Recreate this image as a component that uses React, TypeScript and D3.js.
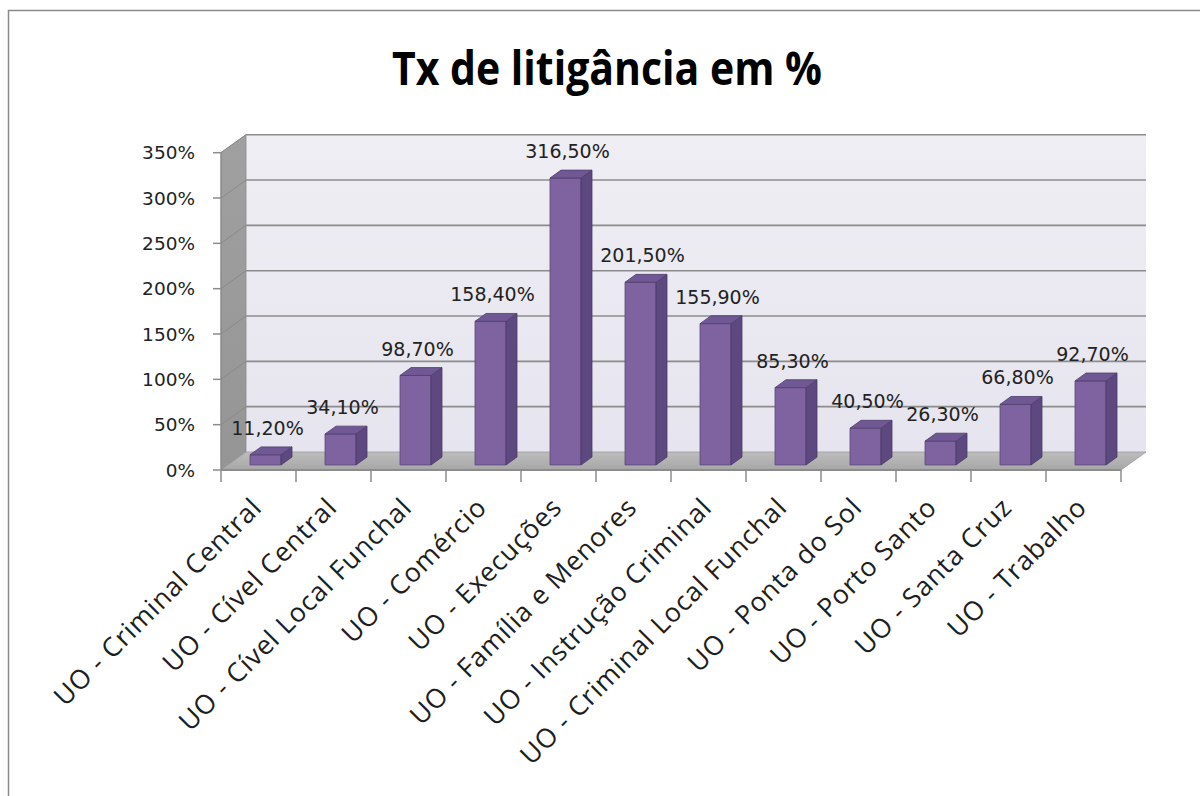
import React from "react";
import * as d3 from "d3";

const categories = [
  "UO - Criminal Central",
  "UO - Cível Central",
  "UO - Cível Local Funchal",
  "UO - Comércio",
  "UO - Execuções",
  "UO - Família e Menores",
  "UO - Instrução Criminal",
  "UO - Criminal Local Funchal",
  "UO - Ponta do Sol",
  "UO - Porto Santo",
  "UO - Santa Cruz",
  "UO - Trabalho",
];
const values = [11.2, 34.1, 98.7, 158.4, 316.5, 201.5, 155.9, 85.3, 40.5, 26.3, 66.8, 92.7];
const yTicks = [0, 50, 100, 150, 200, 250, 300, 350];
const title = "Tx de litigância em %";

const W = 1200;
const H = 796;
const LEFT = 221;
const RIGHT = 1121;
const Y0 = 470;
const Y1 = 152.7;
const DX = 25;
const DY = 18;
const Z0 = 0.28;
const Z1 = 0.72;
const BAR_W = 31;

const fmtPct = (v: number) => d3.format(".2f")(v).replace(".", ",") + "%";

export default function App() {
  const x = d3.scaleBand<string>().domain(categories).range([LEFT, RIGHT]).padding(0);
  const y = d3.scaleLinear().domain([0, 350]).range([Y0, Y1]);
  const P = (px: number, v: number, z: number): [number, number] => [px + z * DX, y(v) - z * DY];
  const pts = (arr: [number, number][]) => arr.map((p) => p.join(",")).join(" ");

  const floor = pts([P(LEFT, 0, 0), P(RIGHT, 0, 0), P(RIGHT, 0, 1), P(LEFT, 0, 1)]);
  const backWall = pts([P(LEFT, 0, 1), P(RIGHT, 0, 1), P(RIGHT, 350, 1), P(LEFT, 350, 1)]);
  const leftWall = pts([P(LEFT, 0, 0), P(LEFT, 0, 1), P(LEFT, 350, 1), P(LEFT, 350, 0)]);
  const boundaries = [...categories.map((c) => x(c) as number), RIGHT];
  const labelFont = "'DejaVu Sans', Verdana, sans-serif";

  return (
    <svg
      width={W}
      height={H}
      style={{ position: "absolute", left: 0, top: 0, background: "#fff" }}
      xmlns="http://www.w3.org/2000/svg"
    >
      <defs>
        <linearGradient id="backG" x1="0" y1="0" x2="0" y2="1">
          <stop offset="0" stopColor="#efeef4" />
          <stop offset="1" stopColor="#e6e4ee" />
        </linearGradient>
        <linearGradient id="leftG" x1="0" y1="0" x2="0" y2="1">
          <stop offset="0" stopColor="#a0a0a0" />
          <stop offset="1" stopColor="#959595" />
        </linearGradient>
        <linearGradient id="floorG" x1="0" y1="1" x2="0" y2="0">
          <stop offset="0" stopColor="#a7a7a7" />
          <stop offset="1" stopColor="#bdbdbd" />
        </linearGradient>
      </defs>
      <rect x={8.5} y={10.5} width={1200} height={800} fill="#fff" stroke="#8a8a8a" strokeWidth={1.5} />

      <text
        x={607}
        y={85}
        textAnchor="middle"
        fontFamily="'Liberation Sans Narrow', 'Open Sans', sans-serif"
        fontWeight="bold"
        fontSize={46}
        textLength={430}
        lengthAdjust="spacingAndGlyphs"
        fill="#000"
      >
        {title}
      </text>

      {/* walls */}
      <polygon points={backWall} fill="url(#backG)" />
      <polygon points={leftWall} fill="url(#leftG)" stroke="#8a8a8a" strokeWidth={0.8} />
      <polygon points={floor} fill="url(#floorG)" stroke="#9a9a9a" strokeWidth={0.8} />

      {/* gridlines */}
      {yTicks.map((t) => {
        const [bx0, by0] = P(LEFT, t, 1);
        const [bx1, by1] = P(RIGHT, t, 1);
        const [fx, fy] = P(LEFT, t, 0);
        return (
          <g key={"g" + t}>
            {t > 0 && <line x1={bx0} y1={by0} x2={bx1} y2={by1} stroke="#8c8c8c" strokeWidth={1.6} />}
            {t > 0 && <line x1={fx} y1={fy} x2={bx0} y2={by0} stroke="#8a8a8a" strokeWidth={1} />}
          </g>
        );
      })}

      {/* y axis */}
      <line x1={LEFT} y1={y(0)} x2={LEFT} y2={y(350)} stroke="#8c8c8c" strokeWidth={1.2} />
      {yTicks.map((t) => (
        <g key={"yt" + t}>
          <line x1={LEFT - 8} y1={y(t)} x2={LEFT} y2={y(t)} stroke="#8c8c8c" strokeWidth={1.5} />
          <text
            x={195}
            y={y(t)}
            dy="0.36em"
            textAnchor="end"
            fontFamily={labelFont}
            fontSize={18.5}
            fill="#222"
          >
            {t + "%"}
          </text>
        </g>
      ))}

      {/* x axis */}
      <line x1={LEFT} y1={Y0} x2={RIGHT} y2={Y0} stroke="#8c8c8c" strokeWidth={2} />
      {boundaries.map((b, i) => (
        <line key={"xt" + i} x1={b} y1={Y0} x2={b} y2={Y0 + 12} stroke="#8c8c8c" strokeWidth={1.5} />
      ))}

      {/* bars */}
      {categories.map((c, i) => {
        const v = values[i];
        const x0 = (x(c) as number) + (x.bandwidth() - BAR_W) / 2;
        const x1 = x0 + BAR_W;
        const front = pts([P(x0, 0, Z0), P(x1, 0, Z0), P(x1, v, Z0), P(x0, v, Z0)]);
        const side = pts([P(x1, 0, Z0), P(x1, 0, Z1), P(x1, v, Z1), P(x1, v, Z0)]);
        const top = pts([P(x0, v, Z0), P(x1, v, Z0), P(x1, v, Z1), P(x0, v, Z1)]);
        const [lx] = P((x0 + x1) / 2, v, Z0);
        const [, backTop] = P(x0, v, Z1);
        return (
          <g key={"b" + i}>
            <polygon points={front} fill="#7f63a1" stroke="#5a4777" strokeWidth={0.8} />
            <polygon points={side} fill="#5d4880" stroke="#4a3a66" strokeWidth={0.8} />
            <polygon points={top} fill="#6f5893" stroke="#4f3d6b" strokeWidth={0.8} />
            <text
              x={lx + 2}
              y={backTop - 12}
              textAnchor="middle"
              fontFamily={labelFont}
              fontSize={19}
              fill="#222"
            >
              {fmtPct(v)}
            </text>
          </g>
        );
      })}

      {/* category labels */}
      {categories.map((c) => {
        const cx = (x(c) as number) + x.bandwidth() / 2 + 5;
        const cy = 509;
        return (
          <text
            key={"cl" + c}
            transform={`translate(${cx},${cy}) rotate(-45)`}
            textAnchor="end"
            fontFamily="'Open Sans', 'Noto Sans', sans-serif"
            fontSize={26.5}
            letterSpacing={0.9}
            fill="#1e1e1e"
          >
            {c}
          </text>
        );
      })}
    </svg>
  );
}
